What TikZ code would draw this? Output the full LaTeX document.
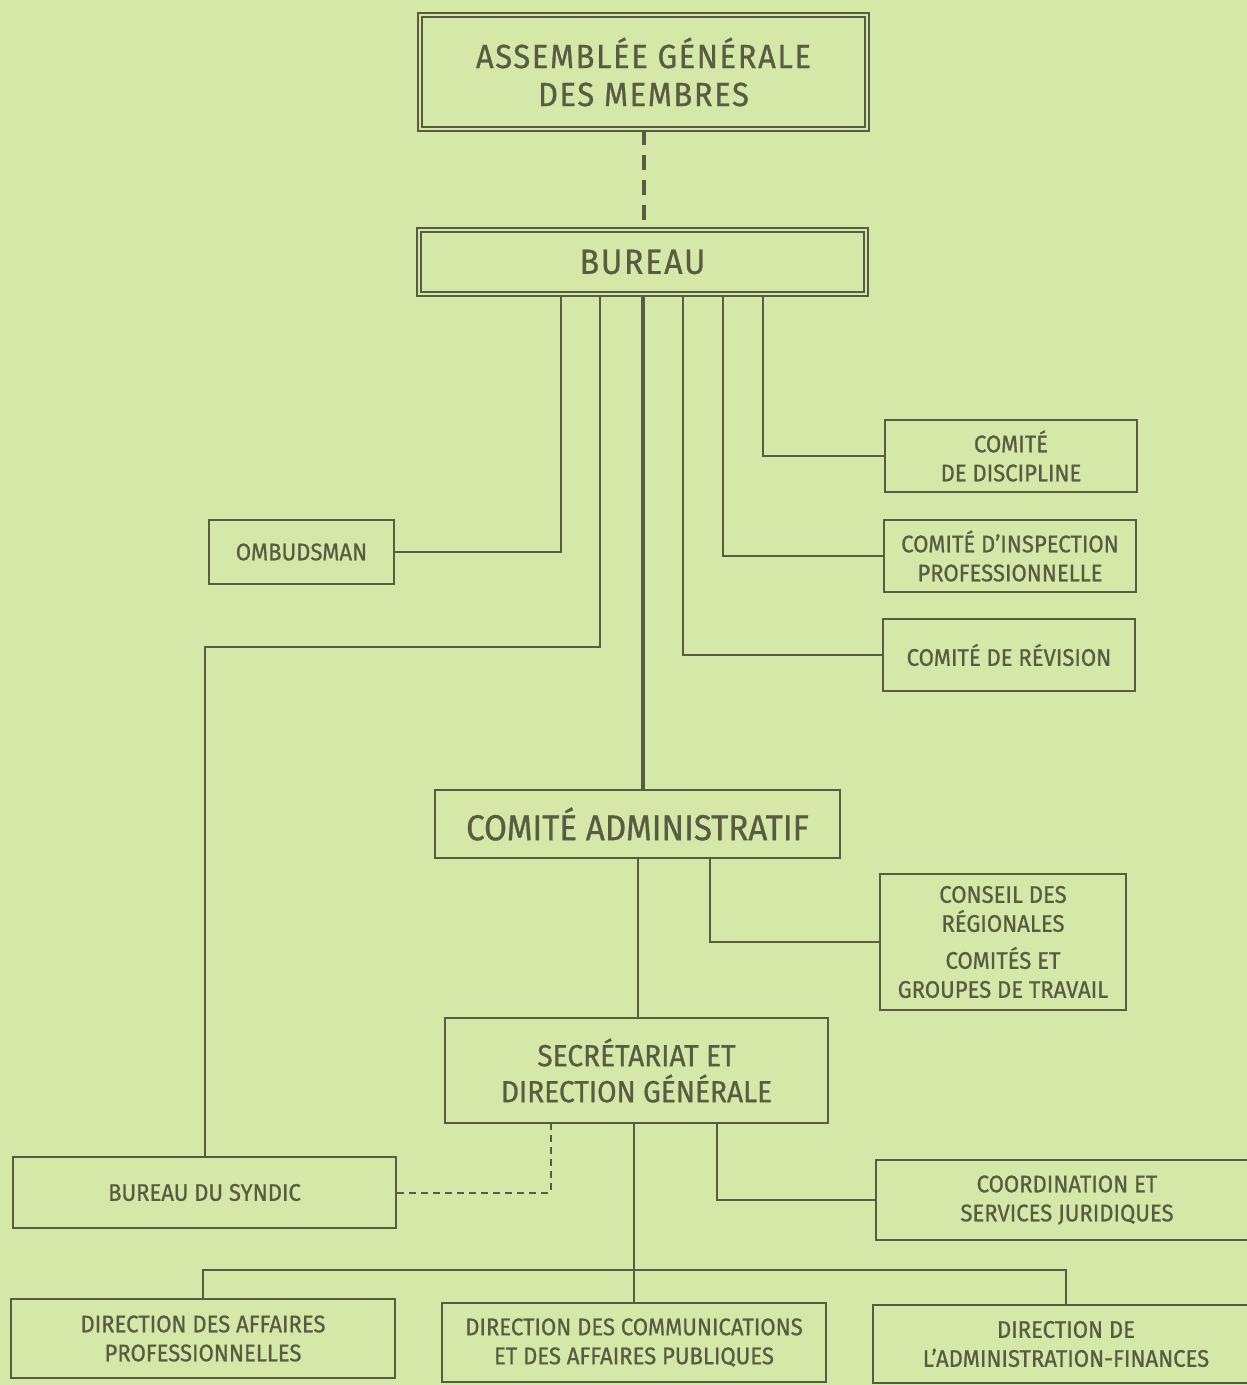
\documentclass[tikz,border=0pt]{standalone}
\usepackage{fontspec}
\setmainfont[FakeBold=0.8,FakeStretch=0.92]{Fira Sans}
\newfontfamily\widefont[FakeBold=0.8,FakeStretch=0.92,LetterSpace=5]{Fira Sans}
\usepackage{tikz}
\usetikzlibrary{positioning,calc}
\definecolor{bgreen}{RGB}{213,232,168}
\definecolor{olive}{RGB}{88,92,66}

\begin{document}
\begin{tikzpicture}[x=1pt,y=-1pt,
    box/.style={draw=olive,line width=2.2pt,inner sep=0pt,align=center,text=olive,
      font=\fontsize{24}{29}\selectfont},
    dbox/.style={box,line width=1.8pt,double=bgreen,double distance=2.6pt,
      font=\widefont\fontsize{33.5}{38}\selectfont},
    link/.style={draw=olive,line width=2pt},
    mainlink/.style={draw=olive,line width=4pt},
    dlink/.style={link,dash pattern=on 7pt off 5pt},
    mdlink/.style={mainlink,dash pattern=on 15pt off 10pt}]
      \useasboundingbox (0,0) rectangle (1247,1385);
      \fill[bgreen] (0,0) rectangle (1247,1385);
      \clip (0,0) rectangle (1247,1385);

      \node[dbox,minimum width=447,minimum height=114] (agm) at (643.5,72) {ASSEMBLÉE GÉNÉRALE\\DES MEMBRES};
      \node[dbox,minimum width=447,minimum height=64,font=\widefont\fontsize{35}{38}\selectfont] (bur) at (642.5,262) {BUREAU};
      \node[box,minimum width=185,minimum height=64] (omb) at (301.5,552) {OMBUDSMAN};
      \node[box,minimum width=252,minimum height=72] (disc) at (1011,456) {COMITÉ\\DE DISCIPLINE};
      \node[box,minimum width=252,minimum height=72] (insp) at (1010,556) {COMITÉ D’INSPECTION\\PROFESSIONNELLE};
      \node[box,minimum width=252,minimum height=72] (rev) at (1009,655) {COMITÉ DE RÉVISION};
      \node[box,minimum width=405,minimum height=68,font=\fontsize{36}{38}\selectfont] (cadm) at (637.5,824) {COMITÉ ADMINISTRATIF};
      \node[box,minimum width=246,minimum height=136] (creg) at (1003,942) {CONSEIL DES\\RÉGIONALES\\[8pt]COMITÉS ET\\GROUPES DE TRAVAIL};
      \node[box,minimum width=383,minimum height=105,font=\fontsize{30.5}{36}\selectfont] (sec) at (636.5,1070.5) {SECRÉTARIAT ET\\DIRECTION GÉNÉRALE};
      \node[box,minimum width=383,minimum height=71] (synd) at (204.5,1192.5) {BUREAU DU SYNDIC};
      \node[box,minimum width=382,minimum height=80] (coord) at (1067,1200) {COORDINATION ET\\SERVICES JURIDIQUES};
      \node[box,minimum width=384,minimum height=79] (daff) at (203,1338.5) {DIRECTION DES AFFAIRES\\PROFESSIONNELLES};
      \node[box,minimum width=384,minimum height=79] (dcom) at (634,1342.5) {DIRECTION DES COMMUNICATIONS\\ET DES AFFAIRES PUBLIQUES};
      \node[box,minimum width=386,minimum height=78] (dadm) at (1066,1344) {DIRECTION DE\\L’ADMINISTRATION-FINANCES};

      \coordinate (k1) at (600,647);
      \coordinate (bus) at (634,1270);

      \draw[mdlink] (agm.south) -- (agm.south |- bur.north);
      \draw[link] (omb.east) -| ([xshift=-82pt]bur.south);
      \draw[link] (synd.north) |- (k1) -- (k1 |- bur.south);
      \draw[mainlink] (bur.south) -- (bur.south |- cadm.north);
      \draw[link] (rev.west) -| ([xshift=40pt]bur.south);
      \draw[link] (insp.west) -| ([xshift=80pt]bur.south);
      \draw[link] (disc.west) -| ([xshift=120pt]bur.south);
      \draw[link] (creg.west) -| ([xshift=72pt]cadm.south);
      \draw[link] (cadm.south) -- (cadm.south |- sec.north);
      \draw[dlink] (synd.east) -| ([xshift=-86pt]sec.south);
      \draw[link] (coord.west) -| ([xshift=80pt]sec.south);
      \draw[link] (bus |- sec.south) -- (dcom.north);
      \draw[link] (daff.north) -- (daff.north |- bus) -- (dadm.north |- bus) -- (dadm.north);

    \end{tikzpicture}
\end{document}
